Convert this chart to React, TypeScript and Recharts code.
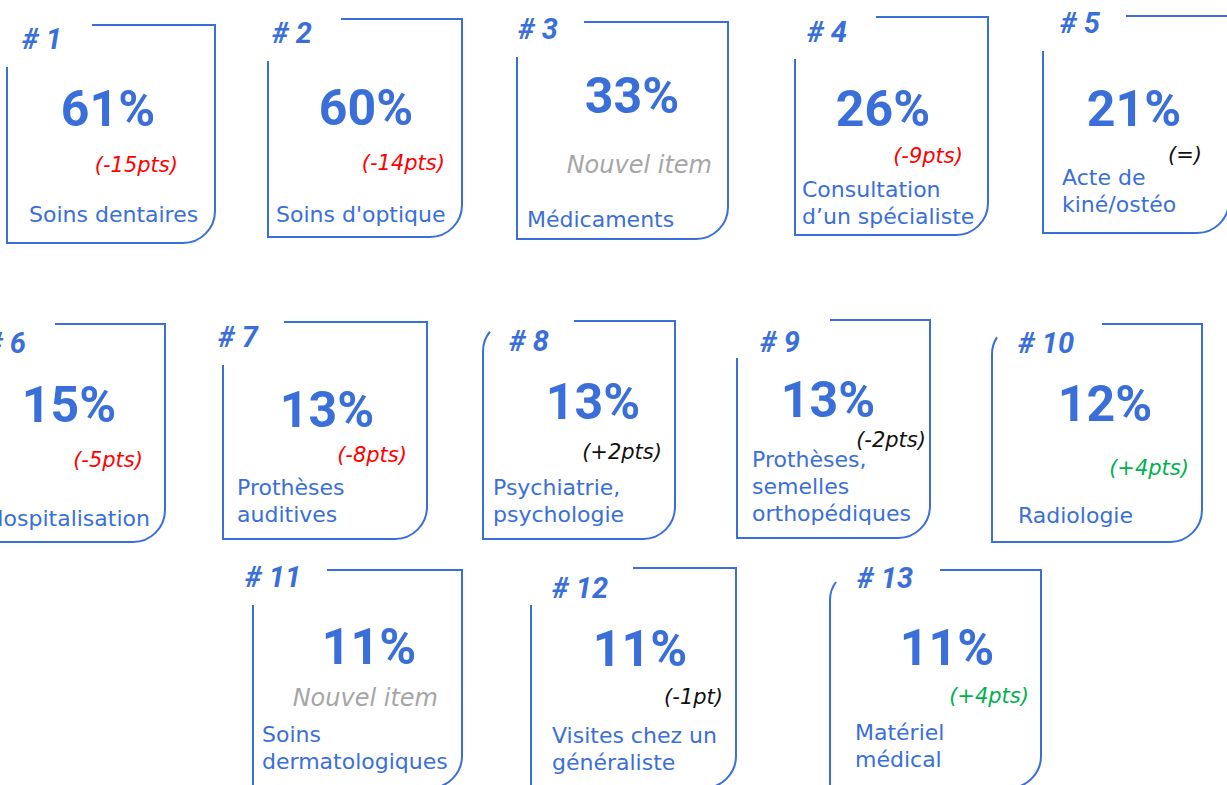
import React from 'react';
import { ScatterChart, Scatter, XAxis, YAxis } from 'recharts';

// ---- data ----
const ranks = [1, 2, 3, 4, 5, 6, 7, 8, 9, 10, 11, 12, 13];
const values = [61, 60, 33, 26, 21, 15, 13, 13, 13, 12, 11, 11, 11];
// change vs previous wave, in points (null = new item)
const deltaPts: (number | null)[] = [-15, -14, null, -9, 0, -5, -8, 2, -2, 4, null, -1, 4];
// significance of the change
const significance = ['down', 'down', 'new', 'down', 'none', 'down', 'down', 'none', 'none', 'up', 'new', 'none', 'up'];
const itemNames: string[][] = [
  ['Soins dentaires'],
  ["Soins d'optique"],
  ['Médicaments'],
  ['Consultation', 'd’un spécialiste'],
  ['Acte de', 'kiné/ostéo'],
  ['Hospitalisation'],
  ['Prothèses', 'auditives'],
  ['Psychiatrie,', 'psychologie'],
  ['Prothèses,', 'semelles', 'orthopédiques'],
  ['Radiologie'],
  ['Soins', 'dermatologiques'],
  ['Visites chez un', 'généraliste'],
  ['Matériel', 'médical'],
];

// ---- layout (card geometry, pixels) ----
type Lay = {
  L: number; T: number; W: number; H: number; gap: number; ls: number; tl: number;
  lab: [number, number]; num: [number, number]; del: [number, number]; name: [number, number];
};
const cardLayout: Lay[] = [
  { L: 7, T: 25, W: 208, H: 218, gap: 85, ls: 42, tl: 0, lab: [15, 24], num: [101, 101], del: [171, 147], name: [22, 197] },
  { L: 268, T: 19, W: 194, H: 218, gap: 73, ls: 42, tl: 0, lab: [4, 24], num: [98, 106], del: [177, 151], name: [8, 203] },
  { L: 517, T: 22, W: 211, H: 217, gap: 67, ls: 35, tl: 0, lab: [1, 17], num: [115, 91], del: [195, 151], name: [10, 205] },
  { L: 795, T: 17, W: 193, H: 218, gap: 81, ls: 42, tl: 0, lab: [12, 25], num: [88, 109], del: [168, 146], name: [7, 180] },
  { L: 1043, T: 16, W: 186, H: 217, gap: 83, ls: 35, tl: 0, lab: [17, 17], num: [91, 110], del: [159, 146], name: [19, 169] },
  { L: -20, T: 324, W: 185, H: 218, gap: 75, ls: 42, tl: 0, lab: [6, 29], num: [89, 98], del: [163, 143], name: [7, 202] },
  { L: 223, T: 322, W: 204, H: 217, gap: 61, ls: 43, tl: 0, lab: [-5, 25], num: [104, 105], del: [184, 140], name: [14, 173] },
  { L: 483, T: 321, W: 192, H: 218, gap: 91, ls: 0, tl: 7, lab: [26, 30], num: [110, 98], del: [179, 138], name: [10, 174] },
  { L: 737, T: 320, W: 193, H: 218, gap: 93, ls: 38, tl: 0, lab: [23, 32], num: [91, 97], del: [189, 127], name: [15, 147] },
  { L: 992, T: 324, W: 210, H: 218, gap: 110, ls: 0, tl: 5, lab: [26, 29], num: [113, 97], del: [197, 151], name: [26, 199] },
  { L: 253, T: 570, W: 209, H: 218, gap: 74, ls: 35, tl: 0, lab: [-8, 17], num: [116, 94], del: [185, 136], name: [9, 172] },
  { L: 531, T: 568, W: 205, H: 220, gap: 102, ls: 37, tl: 0, lab: [21, 30], num: [109, 98], del: [192, 136], name: [21, 175] },
  { L: 830, T: 570, W: 211, H: 218, gap: 110, ls: 0, tl: 6, lab: [27, 18], num: [117, 95], del: [199, 133], name: [25, 170] },
];

const BLUE = '#3a6fd9';
const SIG_COLOR: Record<string, string> = { down: '#ff0000', up: '#00b050', none: '#111111', new: '#a6a6a6' };

const fmtDelta = (d: number | null) => {
  if (d === null) return 'Nouvel item';
  if (d === 0) return '(=)';
  const s = d > 0 ? `+${d}` : `${d}`;
  return Math.abs(d) === 1 ? `(${s}pt)` : `(${s}pts)`;
};

const tableData = ranks.map((r, i) => ({
  x: cardLayout[i].L,
  y: cardLayout[i].T,
  rank: r,
  value: values[i],
  delta: deltaPts[i],
  sig: significance[i],
  name: itemNames[i],
  lay: cardLayout[i],
}));

const CardShape = (props: any) => {
  const { cx, cy, payload } = props;
  if (cx == null || cy == null) return null;
  const g: Lay = payload.lay;
  const L = cx, T = cy, R = cx + g.W, B = cy + g.H;
  const r = 32;
  let d = `M ${L + g.gap} ${T} H ${R} V ${B - r} A ${r} ${r} 0 0 1 ${R - r} ${B} H ${L}`;
  if (g.tl > 0) {
    const rt = 30;
    const ex = L + g.tl;
    const ey = T + rt - Math.sqrt(rt * rt - (rt - g.tl) * (rt - g.tl));
    d += ` V ${T + rt} A ${rt} ${rt} 0 0 1 ${ex} ${ey}`;
  } else {
    d += ` V ${T + g.ls}`;
  }
  const isNew = payload.delta === null;
  return (
    <g>
      <path d={d} fill="none" stroke={BLUE} strokeWidth={2} />
      <text x={L + g.lab[0]} y={T + g.lab[1]} fill={BLUE} fontFamily="Roboto" fontWeight={700}
        fontStyle="italic" fontSize={29}>{`# ${payload.rank}`}</text>
      <text x={L + g.num[0]} y={T + g.num[1]} fill={BLUE} fontFamily="Roboto" fontWeight={700}
        fontSize={50} textAnchor="middle">{`${payload.value}%`}</text>
      <text x={L + g.del[0]} y={T + g.del[1]} fill={SIG_COLOR[payload.sig]} fontFamily="DejaVu Sans"
        fontStyle="italic" fontSize={isNew ? 24 : 21} textAnchor="end">{fmtDelta(payload.delta)}</text>
      {payload.name.map((line: string, k: number) => (
        <text key={k} x={L + g.name[0]} y={T + g.name[1] + k * 27} fill={BLUE}
          fontFamily="DejaVu Sans" fontSize={22}>{line}</text>
      ))}
    </g>
  );
};

export default function App() {
  return (
    <div style={{ position: 'absolute', left: 0, top: 0, width: 1227, height: 785, background: '#fff' }}>
      <ScatterChart width={1227} height={785} margin={{ top: 0, right: 0, bottom: 0, left: 0 }}>
        <XAxis type="number" dataKey="x" domain={[0, 1227]} hide allowDataOverflow />
        <YAxis type="number" dataKey="y" domain={[0, 785]} reversed hide allowDataOverflow />
        <Scatter data={tableData} shape={CardShape} isAnimationActive={false} />
      </ScatterChart>
    </div>
  );
}
